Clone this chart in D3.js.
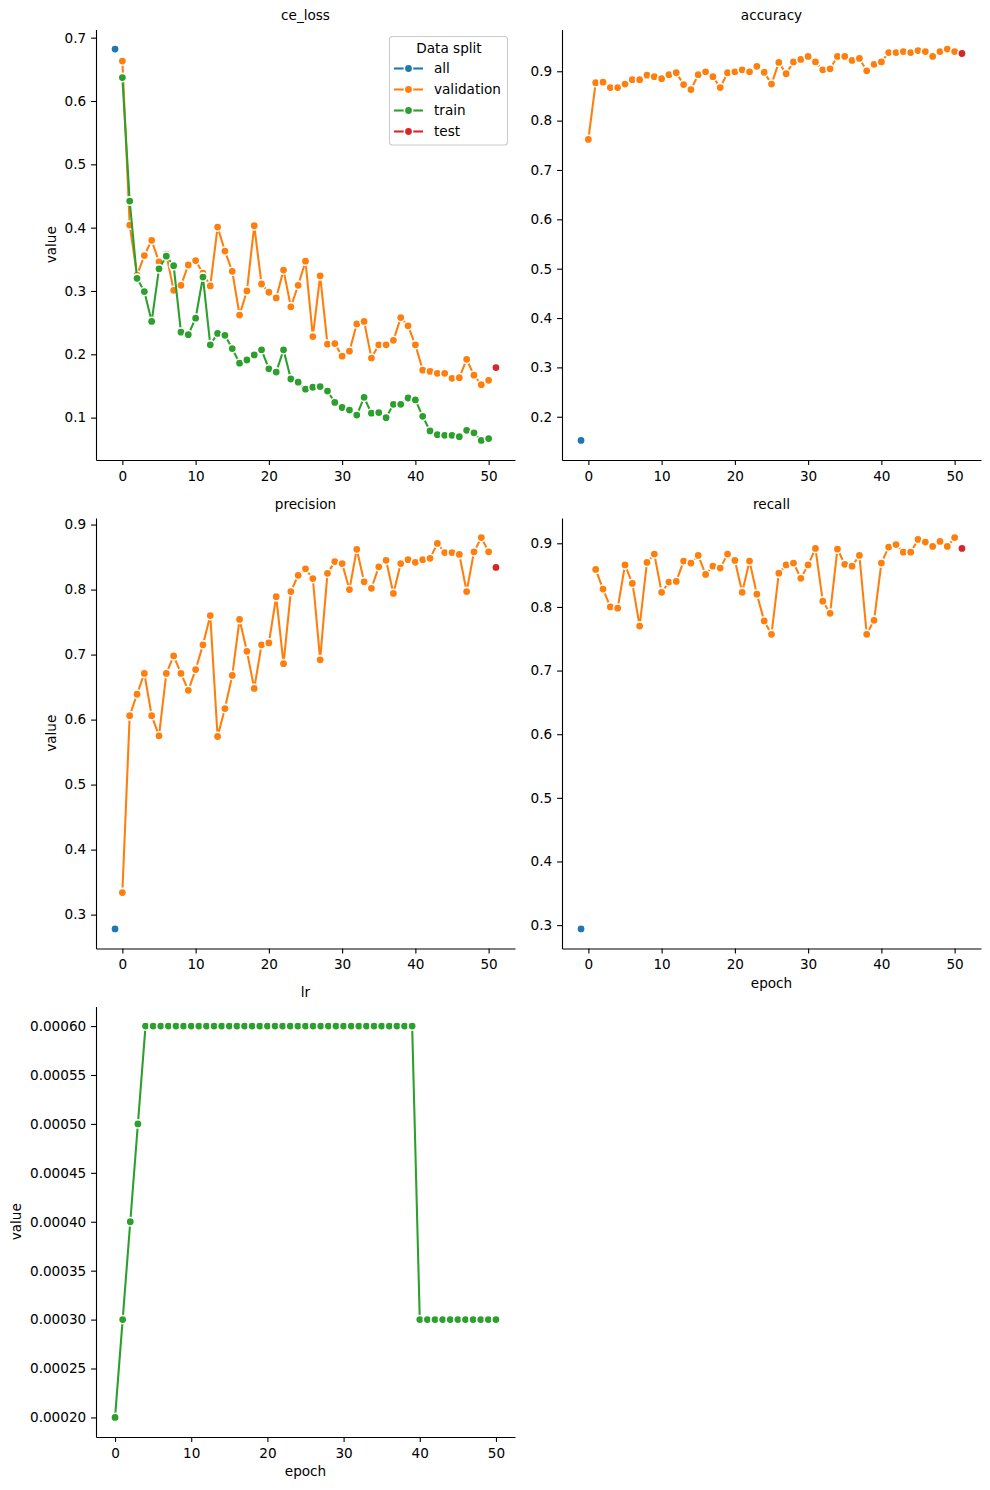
<!DOCTYPE html>
<html>
<head>
<meta charset="utf-8">
<script src="https://cdn.jsdelivr.net/npm/d3@7"></script>
<style>
    body { margin: 0; background: #fff; }
    text { font-family: "DejaVu Sans", sans-serif; }
</style>
</head>
<body>
<div id="chart"></div>
<script>
// values, one array per metric / split
const epochs = d3.range(0, 51)
const all_epoch = -1
const test_epoch = 51

const ce_loss_validation = [0.663, 0.404, 0.325, 0.356, 0.380, 0.346, 0.358, 0.301, 0.309, 0.341,
    0.348, 0.328, 0.308, 0.401, 0.363, 0.331, 0.262, 0.300, 0.403, 0.311,
    0.298, 0.289, 0.333, 0.275, 0.309, 0.347, 0.228, 0.324, 0.216, 0.217,
    0.197, 0.205, 0.248, 0.252, 0.194, 0.215, 0.215, 0.222, 0.258, 0.245,
    0.215, 0.175, 0.173, 0.170, 0.170, 0.162, 0.163, 0.192, 0.167, 0.152, 0.159]
const ce_loss_train = [0.637, 0.442, 0.320, 0.299, 0.252, 0.335, 0.355, 0.340, 0.235, 0.231,
    0.257, 0.322, 0.215, 0.233, 0.230, 0.209, 0.186, 0.191, 0.199, 0.207,
    0.177, 0.172, 0.207, 0.161, 0.156, 0.145, 0.148, 0.149, 0.142, 0.124,
    0.116, 0.112, 0.104, 0.132, 0.107, 0.108, 0.100, 0.121, 0.121, 0.131,
    0.128, 0.102, 0.079, 0.073, 0.072, 0.072, 0.070, 0.080, 0.076, 0.064, 0.067]
const ce_loss_all = [0.682]
const ce_loss_test = [0.179]

const accuracy_validation = [0.762, 0.877, 0.878, 0.867, 0.867, 0.874, 0.883, 0.883, 0.892, 0.889,
    0.885, 0.893, 0.897, 0.873, 0.863, 0.893, 0.899, 0.889, 0.867, 0.897,
    0.899, 0.903, 0.899, 0.910, 0.898, 0.874, 0.918, 0.895, 0.919, 0.924,
    0.930, 0.919, 0.903, 0.905, 0.930, 0.930, 0.922, 0.926, 0.901, 0.914,
    0.919, 0.938, 0.938, 0.940, 0.938, 0.942, 0.940, 0.930, 0.940, 0.945, 0.940]
const accuracy_all = [0.152]
const accuracy_test = [0.936]

const precision_validation = [0.334, 0.606, 0.639, 0.671, 0.606, 0.575, 0.671, 0.698, 0.671, 0.645,
    0.677, 0.715, 0.760, 0.574, 0.617, 0.668, 0.754, 0.705, 0.648, 0.715,
    0.718, 0.789, 0.686, 0.797, 0.822, 0.832, 0.817, 0.692, 0.825, 0.843,
    0.840, 0.800, 0.862, 0.812, 0.802, 0.835, 0.845, 0.794, 0.840, 0.846,
    0.842, 0.846, 0.848, 0.871, 0.857, 0.857, 0.854, 0.797, 0.858, 0.880, 0.858]
const precision_all = [0.278]
const precision_test = [0.834]

// no recall value at epoch 0
const recall_validation = [null, 0.859, 0.828, 0.800, 0.798, 0.866, 0.837, 0.770, 0.870, 0.883,
    0.823, 0.839, 0.840, 0.872, 0.869, 0.881, 0.851, 0.864, 0.861, 0.883,
    0.873, 0.823, 0.872, 0.820, 0.778, 0.757, 0.853, 0.866, 0.869, 0.845,
    0.866, 0.892, 0.809, 0.790, 0.891, 0.867, 0.864, 0.881, 0.757, 0.779,
    0.869, 0.894, 0.898, 0.886, 0.886, 0.906, 0.902, 0.895, 0.903, 0.895, 0.909]
const recall_all = [0.294]
const recall_test = [0.892]

const lr_train = [0.0002, 0.0003, 0.0004, 0.0005, 0.0006, 0.0006, 0.0006, 0.0006, 0.0006, 0.0006,
    0.0006, 0.0006, 0.0006, 0.0006, 0.0006, 0.0006, 0.0006, 0.0006, 0.0006, 0.0006,
    0.0006, 0.0006, 0.0006, 0.0006, 0.0006, 0.0006, 0.0006, 0.0006, 0.0006, 0.0006,
    0.0006, 0.0006, 0.0006, 0.0006, 0.0006, 0.0006, 0.0006, 0.0006, 0.0006, 0.0006,
    0.0003, 0.0003, 0.0003, 0.0003, 0.0003, 0.0003, 0.0003, 0.0003, 0.0003, 0.0003, 0.0003]

const split_names = ['all', 'validation', 'train', 'test']
const split_color = {
    'all': '#1f77b4',
    'validation': '#ff7f0e',
    'train': '#2ca02c',
    'test': '#d62728',
}

const x_ticks = [0, 10, 20, 30, 40, 50]
const y_ticks = {
    'ce_loss': [0.1, 0.2, 0.3, 0.4, 0.5, 0.6, 0.7],
    'accuracy': [0.2, 0.3, 0.4, 0.5, 0.6, 0.7, 0.8, 0.9],
    'precision': [0.3, 0.4, 0.5, 0.6, 0.7, 0.8, 0.9],
    'recall': [0.3, 0.4, 0.5, 0.6, 0.7, 0.8, 0.9],
    'lr': [0.0002, 0.00025, 0.0003, 0.00035, 0.0004, 0.00045, 0.0005, 0.00055, 0.0006],
}

function points(values, start) {
    return values.map((v, i) => ({epoch: start + i, value: v}))
}

const panels = [
    {title: 'ce_loss', col: 0, row: 0, fmt: '.1f', legend: true, series: {
        all: points(ce_loss_all, all_epoch), validation: points(ce_loss_validation, epochs[0]),
        train: points(ce_loss_train, epochs[0]), test: points(ce_loss_test, test_epoch)}},
    {title: 'accuracy', col: 1, row: 0, fmt: '.1f', series: {
        all: points(accuracy_all, all_epoch), validation: points(accuracy_validation, epochs[0]),
        test: points(accuracy_test, test_epoch)}},
    {title: 'precision', col: 0, row: 1, fmt: '.1f', series: {
        all: points(precision_all, all_epoch), validation: points(precision_validation, epochs[0]),
        test: points(precision_test, test_epoch)}},
    {title: 'recall', col: 1, row: 1, fmt: '.1f', xlabel: true, series: {
        all: points(recall_all, all_epoch), validation: points(recall_validation, epochs[0]),
        test: points(recall_test, test_epoch)}},
    {title: 'lr', col: 0, row: 2, fmt: '.5f', xlabel: true, series: {
        train: points(lr_train, epochs[0])}},
]

const W = 990, H = 1490
const font_size = 13.6
const col_x = [96, 562]
const row_y = [29.5, 518, 1006.5]
const panel_w = 419
const panel_h = 430.5

let svg = d3.select('#chart').append('svg')
    .attr('width', W)
    .attr('height', H)
    .style('background', '#fff')

function pad_extent(ext) {
    let d = (ext[1] - ext[0]) * 0.05
    return [ext[0] - d, ext[1] + d]
}

panels.forEach(p => {
    let g = svg.append('g')
        .attr('transform', `translate(${col_x[p.col]}, ${row_y[p.row]})`)

    let all_pts = Object.values(p.series).flat().filter(d => d.value != null)
    let x_scale = d3.scaleLinear()
        .domain(pad_extent(d3.extent(all_pts, d => d.epoch)))
        .range([0, panel_w])
    let y_scale = d3.scaleLinear()
        .domain(pad_extent(d3.extent(all_pts, d => d.value)))
        .range([panel_h, 0])

    // x axis
    let xa = g.append('g')
        .attr('transform', `translate(0, ${panel_h})`)
        .call(d3.axisBottom(x_scale).tickValues(x_ticks).tickFormat(d3.format('d'))
            .tickSizeInner(4.9).tickSizeOuter(0).tickPadding(6.4))
    // y axis
    let ya = g.append('g')
        .call(d3.axisLeft(y_scale).tickValues(y_ticks[p.title]).tickFormat(d3.format(p.fmt))
            .tickSizeInner(4.9).tickSizeOuter(0).tickPadding(4.9))

    ;[xa, ya].forEach(a => {
        a.select('.domain').attr('stroke', '#000').attr('stroke-width', 1.1)
        a.selectAll('.tick line').attr('stroke', '#000').attr('stroke-width', 1.1)
        a.selectAll('.tick text')
            .attr('fill', '#000')
            .style('font-size', `${font_size}px`)
            .style('font-family', '"DejaVu Sans", sans-serif')
    })

    // title
    g.append('text')
        .attr('x', panel_w / 2)
        .attr('y', -9.5)
        .attr('text-anchor', 'middle')
        .style('font-size', `${font_size}px`)
        .text(p.title)

    // y label only on the left column
    if (p.col === 0) {
        let bb = ya.node().getBBox()
        g.append('text')
            .attr('transform', `translate(${bb.x - 8.8}, ${panel_h / 2}) rotate(-90)`)
            .attr('text-anchor', 'middle')
            .style('font-size', `${font_size}px`)
            .text('value')
    }
    if (p.xlabel) {
        g.append('text')
            .attr('x', panel_w / 2)
            .attr('y', panel_h + 39)
            .attr('text-anchor', 'middle')
            .style('font-size', `${font_size}px`)
            .text('epoch')
    }

    let line = d3.line()
        .defined(d => d.value != null)
        .x(d => x_scale(d.epoch))
        .y(d => y_scale(d.value))

    split_names.forEach(s => {
        if (!p.series[s]) return
        let data = p.series[s].filter(d => d.value != null)
        g.append('path')
            .datum(data)
            .attr('d', line)
            .attr('fill', 'none')
            .attr('stroke', split_color[s])
            .attr('stroke-width', 2.08)
            .attr('stroke-linejoin', 'round')
            .attr('stroke-linecap', 'butt')
        g.append('g')
            .selectAll('circle')
            .data(data)
            .enter().append('circle')
            .attr('cx', d => x_scale(d.epoch))
            .attr('cy', d => y_scale(d.value))
            .attr('r', 4.17)
            .attr('fill', split_color[s])
            .attr('stroke', '#fff')
            .attr('stroke-width', 1.56)
    })

    if (p.legend) {
        let lg = g.append('g')
            .attr('transform', `translate(${panel_w - 126}, 6.5)`)
        lg.append('rect')
            .attr('x', 0.5).attr('y', 0.5)
            .attr('width', 118).attr('height', 108.5)
            .attr('rx', 3)
            .attr('fill', '#fff')
            .attr('fill-opacity', 0.8)
            .attr('stroke', '#cccccc')
            .attr('stroke-width', 1.1)
        lg.append('text')
            .attr('x', 60)
            .attr('y', 17)
            .attr('text-anchor', 'middle')
            .style('font-size', `${font_size}px`)
            .text('Data split')
        split_names.forEach((s, i) => {
            let yy = 32.5 + i * 21
            lg.append('line')
                .attr('x1', 5).attr('x2', 34)
                .attr('y1', yy).attr('y2', yy)
                .attr('stroke', split_color[s])
                .attr('stroke-width', 2.08)
            lg.append('circle')
                .attr('cx', 19.5).attr('cy', yy)
                .attr('r', 4.17)
                .attr('fill', split_color[s])
                .attr('stroke', '#fff')
                .attr('stroke-width', 1.56)
            lg.append('text')
                .attr('x', 45)
                .attr('y', yy + 4.8)
                .style('font-size', `${font_size}px`)
                .text(s)
        })
    }
})
</script>
</body>
</html>
